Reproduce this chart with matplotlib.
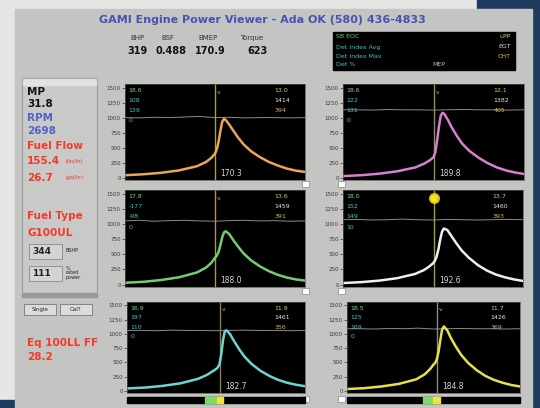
import matplotlib
matplotlib.use("Agg")
import matplotlib.pyplot as plt
from matplotlib.patches import Rectangle

W, H = 540, 408

# sample positions across each cylinder trace (percent of window)
CURVE_X = [0, 10, 20, 30, 40, 45, 48, 50, 51, 52, 53, 54, 55, 56, 58, 60, 63, 66, 70, 75, 80, 85, 90, 95, 100]
EGT_X = [0, 8, 16, 25, 33, 41, 50, 58, 66, 75, 83, 91, 100]
Y_TICKS = [0, 250, 500, 750, 1000, 1250, 1500]

# pressure traces, one per cylinder
cyl1 = [40, 55, 80, 120, 190, 260, 330, 400, 470, 600, 780, 930, 980, 960, 880, 790, 660, 550, 440, 340, 260, 200, 150, 115, 95]
cyl2 = [25, 40, 65, 105, 170, 235, 290, 340, 420, 620, 850, 1030, 1080, 1060, 960, 840, 690, 560, 440, 330, 240, 170, 120, 85, 60]
cyl3 = [30, 45, 75, 120, 200, 280, 360, 440, 480, 540, 650, 780, 860, 880, 830, 740, 620, 510, 400, 300, 220, 160, 115, 85, 65]
cyl4 = [25, 40, 65, 105, 175, 240, 300, 350, 390, 460, 580, 740, 870, 925, 900, 810, 680, 560, 440, 320, 230, 165, 120, 85, 60]
cyl5 = [40, 55, 85, 130, 210, 280, 340, 380, 410, 470, 650, 900, 1050, 1060, 990, 880, 730, 600, 470, 350, 260, 190, 140, 105, 80]
cyl6 = [30, 45, 75, 120, 200, 290, 380, 460, 490, 560, 700, 900, 1080, 1130, 1060, 930, 770, 630, 490, 360, 260, 190, 140, 100, 75]

egt1 = [1000, 995, 1005, 1000, 1010, 1020, 1000, 1005, 995, 1000, 1000, 995, 1000]
egt2 = [1130, 1130, 1125, 1135, 1130, 1130, 1125, 1130, 1135, 1130, 1130, 1125, 1130]
egt3 = [1050, 1060, 1045, 1055, 1060, 1050, 1045, 1055, 1060, 1050, 1055, 1045, 1050]
egt4 = [1070, 1075, 1065, 1070, 1080, 1070, 1065, 1075, 1070, 1065, 1070, 1075, 1070]
egt5 = [1060, 1060, 1055, 1065, 1060, 1060, 1055, 1060, 1065, 1060, 1060, 1055, 1060]
egt6 = [1090, 1090, 1085, 1095, 1090, 1100, 1085, 1090, 1095, 1090, 1090, 1085, 1090]

spark_pos = [50, 50, 50, 50.5, 52, 52]
left_vals = [["18.6", "108", "139"], ["18.6", "222", "131"], ["17.8", "-177", "-98"],
             ["18.0", "152", "149"], ["16.9", "197", "110"], ["18.5", "125", "169"]]
right_vals = [["13.0", "1414", "394"], ["12.1", "1382", "405"], ["13.6", "1459", "391"],
              ["13.7", "1460", "393"], ["11.9", "1461", "356"], ["11.7", "1426", "369"]]
imep_vals = ["170.3", "189.8", "188.0", "192.6", "182.7", "184.8"]

hdr_names = ["BHP", "BSF", "BMEP", "Torque"]
hdr_values = ["319", "0.488", "170.9", "623"]

curves = [cyl1, cyl2, cyl3, cyl4, cyl5, cyl6]
egts = [egt1, egt2, egt3, egt4, egt5, egt6]
trace_colors = ["#e8a65a", "#d77fd0", "#6fcf73", "#eeeeee", "#6fd3d3", "#e6e04a"]
spark_colors = ["#a0a05a", "#909058", "#a89070", "#a0a040", "#8c7c50", "#8c8c8c"]
# panel boxes in pixels: left, top, right, bottom
boxes = [(125, 84, 305, 180), (343, 84, 524, 180), (125, 190, 305, 287),
         (343, 190, 523, 287), (127, 302, 305, 393), (347, 302, 520, 393)]

fig = plt.figure(figsize=(W / 100, H / 100), dpi=100)
bg = fig.add_axes([0, 0, 1, 1])
bg.set_xlim(0, W)
bg.set_ylim(H, 0)
bg.axis("off")

# page and window backgrounds
bg.add_patch(Rectangle((0, 0), W, H, color="#e6e6e4"))
bg.add_patch(Rectangle((477, 0), W - 477, 9, color="#1f3b60"))
bg.add_patch(Rectangle((532, 9), 8, H, color="#1f3b60"))
bg.add_patch(Rectangle((0, 400), 16, 8, color="#1f3b60"))
bg.add_patch(Rectangle((15, 9), 517, H, color="#c4c4c2"))

bg.text(262, 20, "GAMI Engine Power Viewer - Ada OK (580) 436-4833", color="#4852b2",
        fontsize=8, fontweight="bold", ha="center", va="center")
for name, x in zip(hdr_names, [137, 168, 208, 252]):
    bg.text(x, 38, name, fontsize=5, color="#333333", ha="center", va="center")
for val, x in zip(hdr_values, [137, 171, 210, 258]):
    bg.text(x, 51, val, fontsize=7, fontweight="bold", color="#111111", ha="center", va="center")

# legend box
bg.add_patch(Rectangle((333, 32), 182, 38, color="black"))
bg.text(336, 37, "SB EOC", fontsize=4.5, color="#5fd85f", va="center")
bg.text(336, 47, "Det Index Avg", fontsize=4.5, color="#45c4c4", va="center")
bg.text(336, 56, "Det Index Max", fontsize=4.5, color="#45c4c4", va="center")
bg.text(336, 65, "Det %", fontsize=4.5, color="#45c4c4", va="center")
bg.text(432, 65, "MEP", fontsize=4.5, color="#bbbbbb", va="center")
bg.text(511, 37, "uPP", fontsize=4.5, color="#c8d860", va="center", ha="right")
bg.text(511, 47, "EGT", fontsize=4.5, color="#e0e0e0", va="center", ha="right")
bg.text(511, 56, "CHT", fontsize=4.5, color="#d8b070", va="center", ha="right")

# left status panel
bg.add_patch(Rectangle((22, 78), 75, 219, facecolor="#c9c9c7", edgecolor="#9a9a98", lw=0.8))
bg.add_patch(Rectangle((23, 79), 73, 6, color="#e2e2e0"))
bg.add_patch(Rectangle((22, 293), 75, 4, color="#9a9a98"))
bg.text(27, 92, "MP", fontsize=7.5, fontweight="bold", color="#111111", va="center")
bg.text(27, 104, "31.8", fontsize=7.5, fontweight="bold", color="#111111", va="center")
bg.text(27, 118, "RPM", fontsize=7.5, fontweight="bold", color="#5063c8", va="center")
bg.text(27, 131, "2698", fontsize=7.5, fontweight="bold", color="#5063c8", va="center")
bg.text(27, 146, "Fuel Flow", fontsize=7.5, fontweight="bold", color="#f03a2a", va="center")
bg.text(27, 161, "155.4", fontsize=7.5, fontweight="bold", color="#f03a2a", va="center")
bg.text(66, 162, "(lbs/hr)", fontsize=3.5, color="#f03a2a", va="center")
bg.text(27, 178, "26.7", fontsize=7.5, fontweight="bold", color="#f03a2a", va="center")
bg.text(66, 178, "(gal/hr)", fontsize=3.5, color="#f03a2a", va="center")
bg.text(27, 216, "Fuel Type", fontsize=7.5, fontweight="bold", color="#f03a2a", va="center")
bg.text(27, 233, "G100UL", fontsize=7.5, fontweight="bold", color="#f03a2a", va="center")
bg.add_patch(Rectangle((29, 244), 33, 15, facecolor="#d4d4d2", edgecolor="#8a8a88", lw=0.6))
bg.text(32, 252, "344", fontsize=6.5, fontweight="bold", color="#222222", va="center")
bg.text(66, 250, "BSHP", fontsize=3.5, color="#222222", va="center")
bg.add_patch(Rectangle((29, 266), 33, 15, facecolor="#d4d4d2", edgecolor="#8a8a88", lw=0.6))
bg.text(32, 273, "111", fontsize=6.5, fontweight="bold", color="#222222", va="center")
bg.text(66, 273, "%\nrated\npower", fontsize=3.5, color="#222222", va="center", linespacing=1.0)
for x0, label in [(24, "Single"), (60, "Cal?")]:
    bg.add_patch(Rectangle((x0, 304), 32, 11, facecolor="#dcdcda", edgecolor="#777775", lw=0.6))
    bg.text(x0 + 16, 309.5, label, fontsize=4, color="#222222", ha="center", va="center")
bg.text(27, 343, "Eq 100LL FF", fontsize=7.5, fontweight="bold", color="#f03a2a", va="center")
bg.text(27, 357, "28.2", fontsize=7.5, fontweight="bold", color="#f03a2a", va="center")

# slider thumbs and position bars
for y in [184, 291, 399]:
    for x in [302, 338]:
        bg.add_patch(Rectangle((x, y - 3), 7, 6, facecolor="white", edgecolor="#888888", lw=0.5))
bg.add_patch(Rectangle((127, 397), 178, 6, color="black"))
bg.add_patch(Rectangle((205, 397), 12, 6, color="#7fd860"))
bg.add_patch(Rectangle((217, 397), 6, 6, color="#f0e040"))
bg.add_patch(Rectangle((347, 397), 173, 6, color="black"))
bg.add_patch(Rectangle((423, 397), 10, 6, color="#7fd860"))
bg.add_patch(Rectangle((433, 397), 7, 6, color="#f0e040"))


def px_box(x0, y0, x1, y1):
    return [x0 / W, 1 - y1 / H, (x1 - x0) / W, (y1 - y0) / H]


for i, box in enumerate(boxes):
    ax = fig.add_axes(px_box(*box))
    ax.set_facecolor("black")
    ax.set_xlim(0, 100)
    ax.set_ylim(-40, 1560)
    ax.plot(EGT_X, egts[i], color="#8a8a8a", lw=0.7)
    ax.axvline(spark_pos[i], color=spark_colors[i], lw=1)
    ax.plot(CURVE_X, curves[i], color=trace_colors[i], lw=1.8, solid_capstyle="round")
    if i == 3:
        ax.plot([spark_pos[i]], [1430], "o", color="#f4e419", ms=7, mec="#c8b800")
    ax.text(spark_pos[i] + 1, 1420, "\u03bd", fontsize=4.5, color="#aaaaaa", va="center")
    for k, (t, c) in enumerate(zip(left_vals[i], ["#7fd87f", "#45c4c4", "#45c4c4"])):
        ax.text(2, 1450 - k * 165, t, fontsize=4.5, color=c, va="center")
    ax.text(2, 945, "10" if i == 3 else "0", fontsize=4.5, color="#45c4c4", va="center")
    for k, (t, c) in enumerate(zip(right_vals[i], ["#c8d860", "#e6e6e6", "#d8b070"])):
        ax.text(83, 1450 - k * 165, t, fontsize=4.5, color=c, va="center")
    ax.text(spark_pos[i] + 3, 70, imep_vals[i], fontsize=5.5, color="#d6d6d6", va="center")
    ax.set_yticks(Y_TICKS)
    ax.set_yticklabels([str(v) for v in Y_TICKS])
    ax.set_xticks([])
    ax.tick_params(axis="y", labelsize=4, colors="#3a3a3a", length=2, width=0.5, pad=1)
    for s in ax.spines.values():
        s.set_color("#555555")
        s.set_linewidth(0.5)

fig.savefig("out.png", dpi=100)
